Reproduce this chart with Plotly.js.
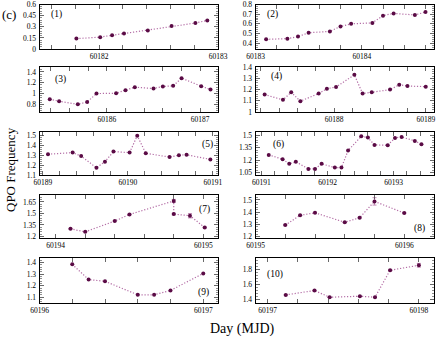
<!DOCTYPE html>
<html>
<head>
<meta charset="utf-8">
<script src="https://cdn.plot.ly/plotly-3.0.1.min.js"></script>
<style>
	html, body { margin: 0; padding: 0; background: #fff; }
	#qpo { width: 436px; height: 339px; }
</style>
</head>
<body>
<div id="qpo"></div>
<script>
(function () {

	'use strict';

	/**
	* Data (MJD, QPO frequency)
	*/
	const day1 = [60181.81, 60182.01, 60182.11, 60182.21, 60182.41, 60182.61, 60182.81, 60182.91];
	const qpo1 = [0.14, 0.16, 0.185, 0.21, 0.25, 0.31, 0.35, 0.385];

	const day2 = [60183.10, 60183.30, 60183.40, 60183.50, 60183.70, 60183.80, 60183.90, 60184.10, 60184.20, 60184.30, 60184.50, 60184.60];
	const qpo2 = [0.44, 0.447, 0.468, 0.508, 0.522, 0.573, 0.60, 0.61, 0.685, 0.708, 0.692, 0.722];

	const day3 = [60185.39, 60185.49, 60185.69, 60185.79, 60185.89, 60186.10, 60186.20, 60186.30, 60186.50, 60186.60, 60186.71, 60186.80, 60187.01, 60187.11];
	const qpo3 = [0.895, 0.858, 0.802, 0.845, 1.0, 1.006, 1.062, 1.117, 1.093, 1.13, 1.142, 1.284, 1.136, 1.074];

	const day4 = [60187.24, 60187.44, 60187.53, 60187.63, 60187.83, 60187.92, 60188.02, 60188.22, 60188.31, 60188.41, 60188.61, 60188.71, 60188.80, 60189.00];
	const qpo4 = [1.155, 1.108, 1.175, 1.096, 1.164, 1.207, 1.222, 1.33, 1.164, 1.175, 1.199, 1.242, 1.231, 1.225];

	const day5 = [60189.06, 60189.35, 60189.45, 60189.63, 60189.73, 60189.83, 60190.02, 60190.11, 60190.21, 60190.49, 60190.60, 60190.69, 60190.97];
	const qpo5 = [1.308, 1.324, 1.289, 1.172, 1.233, 1.334, 1.324, 1.493, 1.318, 1.279, 1.298, 1.302, 1.256];

	const day6 = [60191.11, 60191.32, 60191.42, 60191.52, 60191.71, 60191.81, 60191.91, 60192.11, 60192.21, 60192.31, 60192.51, 60192.61, 60192.71, 60192.91, 60193.02, 60193.12, 60193.32, 60193.42];
	const qpo6 = [1.263, 1.211, 1.155, 1.179, 1.094, 1.094, 1.155, 1.110, 1.110, 1.315, 1.488, 1.472, 1.384, 1.380, 1.468, 1.480, 1.432, 1.392];

	const day7 = [60194.10, 60194.20, 60194.40, 60194.50, 60194.80, 60194.80, 60194.91, 60195.01];
	const qpo7 = [1.299, 1.26, 1.401, 1.487, 1.663, 1.491, 1.47, 1.316];
	const err7 = [0.005, 0.005, 0.005, 0.005, 0.02, 0.01, 0.028, 0.005];

	const day8 = [60195.2, 60195.3, 60195.4, 60195.6, 60195.7, 60195.8, 60196.0];
	const qpo8 = [1.295, 1.375, 1.395, 1.318, 1.355, 1.488, 1.393];
	const err8 = [0.004, 0.004, 0.004, 0.004, 0.004, 0.03, 0.004];

	const day9 = [60196.20, 60196.30, 60196.40, 60196.60, 60196.70, 60196.80, 60197.00];
	const qpo9 = [1.385, 1.253, 1.238, 1.121, 1.121, 1.159, 1.306];

	const day10 = [60197.12, 60197.31, 60197.41, 60197.61, 60197.71, 60197.81, 60198.00];
	const qpo10 = [1.458, 1.516, 1.427, 1.44, 1.427, 1.787, 1.853];
	const err10 = [0.005, 0.005, 0.005, 0.005, 0.005, 0.01, 0.025];

	const panelLabels = ['(1)', '(2)', '(3)', '(4)', '(5)', '(6)', '(7)', '(8)', '(9)', '(10)'];

	/**
	* Figure geometry (px) 
	*/
	const W = 436, H = 339;
	const font = 'Liberation Serif';
	const markerColor = '#5a0b45';
	const lineColor = '#b46ea6';

	const cols = [ [39.5, 218], [255.5, 434] ];
	const rows = [ [4.5, 49], [67, 112], [132, 175], [195, 238], [258, 303] ];

	// per panel: x range, y range, y dtick, y tick0, label pos (px) 
	const panels = [
		{ day: day1, qpo: qpo1, xr: [60181.5, 60183], yr: [0, 0.6], dy: 0.15, t0: 0, lab: [56, 15] },
		{ day: day2, qpo: qpo2, xr: [60183, 60184.68], yr: [0.34, 0.8], dy: 0.1, t0: 0, lab: [272, 15] },
		{ day: day3, qpo: qpo3, xr: [60185.28, 60187.19], yr: [0.66, 1.49], dy: 0.2, t0: 0, lab: [60, 79] },
		{ day: day4, qpo: qpo4, xr: [60187.14, 60189.09], yr: [1, 1.4], dy: 0.1, t0: 0, lab: [276, 76] },
		{ day: day5, qpo: qpo5, xr: [60188.96, 60191.06], yr: [1.1, 1.53], dy: 0.1, t0: 0, lab: [207, 144] },
		{ day: day6, qpo: qpo6, xr: [60190.91, 60193.61], yr: [1.02, 1.54], dy: 0.15, t0: 1.05, lab: [278, 144] },
		{ day: day7, qpo: qpo7, err: err7, xr: [60193.89, 60195.1], yr: [1.18, 1.74], dy: 0.15, t0: 1.2, lab: [204, 209] },
		{ day: day8, qpo: qpo8, err: err8, xr: [60195, 60196.2], yr: [1.19, 1.54], dy: 0.1, t0: 0, lab: [419, 228] },
		{ day: day9, qpo: qpo9, xr: [60196, 60197.09], yr: [1.05, 1.44], dy: 0.1, t0: 0, lab: [203, 292] },
		{ day: day10, qpo: qpo10, err: err10, xr: [60196.92, 60198.1], yr: [1.35, 1.95], dy: 0.2, t0: 0, lab: [275, 274] },
	];

	const px2x = ( px ) => px / W;
	const px2y = ( py ) => 1 - py / H;

	const data = [];
	const layout = {
		width: W,
		height: H,
		margin: { l: 0, r: 0, t: 0, b: 0 },
		paper_bgcolor: '#fff',
		plot_bgcolor: '#fff',
		showlegend: false,
		font: { family: font, size: 7, color: '#000' },
		annotations: [],
	};

	panels.forEach(( p, i ) => {
		const n = i + 1;
		const col = cols[ i % 2 ];
		const row = rows[ Math.floor( i / 2 ) ];

		const trace = {
			x: p.day,
			y: p.qpo,
			xaxis: 'x' + n,
			yaxis: 'y' + n,
			type: 'scatter',
			mode: 'lines+markers',
			line: { color: lineColor, width: 1.2, dash: '1.2px,1.8px' },
			marker: { color: markerColor, size: 4, symbol: 'circle' },
			cliponaxis: false,
		};
		if( p.err ){
			trace.error_y = { type: 'data', array: p.err, color: '#c08ab5', thickness: 1, width: 2 };
		}
		data.push( trace );

		layout['xaxis' + n] = {
			domain: [ px2x( col[0] ), px2x( col[1] ) ],
			anchor: 'y' + n,
			range: p.xr,
			dtick: 1,
			tick0: 0,
			tickformat: 'd',
			ticks: 'inside',
			ticklen: 4,
			tickwidth: 0.8,
			minor: { dtick: 0.2, tick0: 0, ticks: 'inside', ticklen: 4, tickwidth: 0.8 },
			showline: true,
			linecolor: '#000',
			linewidth: 1,
			mirror: 'ticks',
			showgrid: false,
			zeroline: false,
			tickfont: { family: font, size: 7.5 },
		};

		layout['yaxis' + n] = {
			domain: [ px2y( row[1] ), px2y( row[0] ) ],
			anchor: 'x' + n,
			range: p.yr,
			dtick: p.dy,
			tick0: p.t0,
			ticks: 'inside',
			ticklen: 4,
			tickwidth: 0.8,
			minor: { dtick: p.dy / 5, tick0: p.t0, ticks: 'inside', ticklen: 2, tickwidth: 0.6 },
			showline: true,
			linecolor: '#000',
			linewidth: 1,
			mirror: 'ticks',
			showgrid: false,
			zeroline: false,
			ticklabelstandoff: 1,
			tickfont: { family: font, size: 7.5 },
		};

		layout.annotations.push({
			text: panelLabels[i],
			xref: 'paper', yref: 'paper',
			x: px2x( p.lab[0] ), y: px2y( p.lab[1] ),
			xanchor: 'center', yanchor: 'middle',
			showarrow: false,
			font: { family: font, size: 9.5 },
		});
	});

	// shared titles
	layout.annotations.push(
		{
			text: '(c)', xref: 'paper', yref: 'paper',
			x: px2x( 9 ), y: px2y( 14 ), xanchor: 'center', yanchor: 'middle',
			showarrow: false, font: { family: font, size: 13 },
		},
		{
			text: 'QPO Frequency', xref: 'paper', yref: 'paper',
			x: px2x( 10 ), y: px2y( 170 ), xanchor: 'center', yanchor: 'middle',
			textangle: -90, showarrow: false, font: { family: font, size: 13 },
		},
		{
			text: 'Day (MJD)', xref: 'paper', yref: 'paper',
			x: px2x( 242 ), y: px2y( 329 ), xanchor: 'center', yanchor: 'middle',
			showarrow: false, font: { family: font, size: 14 },
		}
	);

	Plotly.newPlot( 'qpo', data, layout, { displayModeBar: false, staticPlot: true });

})();
</script>
</body>
</html>
